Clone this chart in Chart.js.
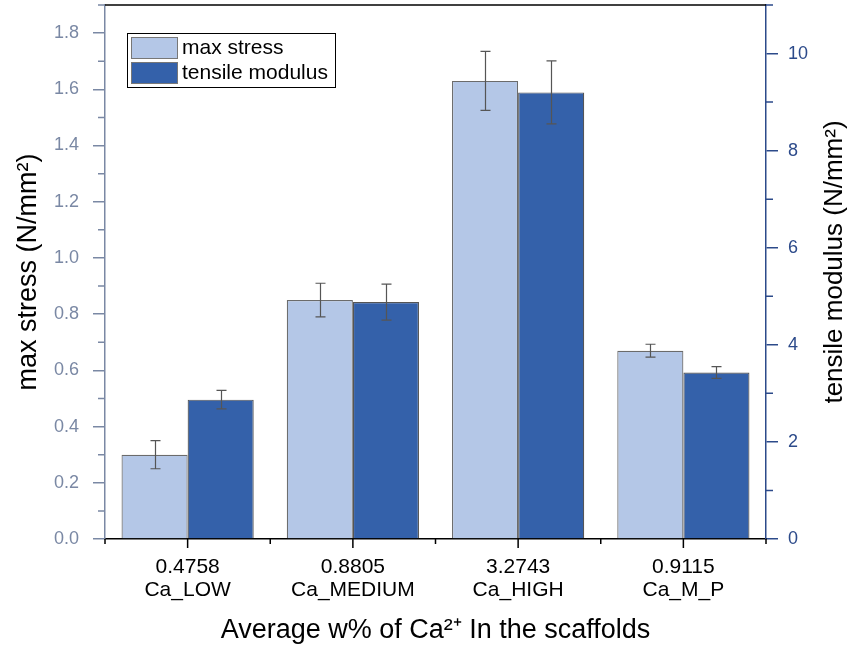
<!DOCTYPE html>
<html lang="en">
<head>
    <meta charset="UTF-8">
    <title>Max stress and tensile modulus</title>
    <script src="https://cdn.jsdelivr.net/npm/chart.js"></script>
    <style>
        html, body { margin: 0; padding: 0; background: #fff; }
        #wrap { width: 849px; height: 650px; }
    </style>
</head>
<body>
    <div id="wrap"><canvas id="barChart" width="849" height="650"></canvas></div>

    <script>
        // Data
        const caValues = ['0.4758', '0.8805', '3.2743', '0.9115'];
        const groups = ['Ca_LOW', 'Ca_MEDIUM', 'Ca_HIGH', 'Ca_M_P'];
        const maxStress = [0.30, 0.85, 1.63, 0.67];
        const maxStressErr = [0.05, 0.06, 0.105, 0.023];
        const tensileModulus = [2.87, 4.88, 9.20, 3.43];
        const tensileModulusErr = [0.19, 0.37, 0.65, 0.12];

        const font = 'Liberation Sans, Arial, sans-serif';
        const leftColor = '#7a88a4';
        const rightColor = '#2c4a8a';

        // error bars drawn through the scales
        const errorBars = {
            id: 'errorBars',
            afterDatasetsDraw(chart) {
                const ctx = chart.ctx;
                ctx.save();
                ctx.strokeStyle = '#555';
                ctx.lineWidth = 1.2;
                chart.data.datasets.forEach((ds, i) => {
                    const meta = chart.getDatasetMeta(i);
                    const scale = chart.scales[ds.yAxisID];
                    meta.data.forEach((bar, j) => {
                        const v = ds.data[j], e = ds.errors[j];
                        const yTop = scale.getPixelForValue(v + e);
                        const yBot = scale.getPixelForValue(v - e);
                        const x = Math.round(bar.x) + 0.5;
                        ctx.beginPath();
                        ctx.moveTo(x, yTop); ctx.lineTo(x, yBot);
                        ctx.moveTo(x - 5, yTop); ctx.lineTo(x + 5, yTop);
                        ctx.moveTo(x - 5, yBot); ctx.lineTo(x + 5, yBot);
                        ctx.stroke();
                    });
                });
                ctx.restore();
            }
        };

        // frame, minor ticks, x ticks, right title and legend box
        const decorations = {
            id: 'decorations',
            afterDraw(chart) {
                const ctx = chart.ctx;
                const area = chart.chartArea;
                const x = chart.scales.x, yL = chart.scales.yL, yR = chart.scales.yR;
                ctx.save();
                ctx.lineWidth = 1.5;

                // top frame
                ctx.strokeStyle = '#000';
                ctx.beginPath();
                ctx.moveTo(area.left, area.top); ctx.lineTo(area.right, area.top);
                ctx.stroke();

                // minor ticks (midpoints of major ticks)
                const minor = (scale, color, side) => {
                    ctx.strokeStyle = color;
                    const t = scale.ticks.map(k => k.value);
                    ctx.beginPath();
                    for (let i = 0; i < t.length; i++) {
                        const next = i + 1 < t.length ? t[i + 1] : t[i] + (t[1] - t[0]);
                        const m = (t[i] + next) / 2;
                        if (m > scale.max) continue;
                        const py = scale.getPixelForValue(m);
                        if (side === 'left') { ctx.moveTo(area.left, py); ctx.lineTo(area.left - 7, py); }
                        else { ctx.moveTo(area.right, py); ctx.lineTo(area.right + 7, py); }
                    }
                    ctx.stroke();
                };
                minor(yL, leftColor, 'left');
                minor(yR, rightColor, 'right');

                // x ticks: long at categories, short at boundaries
                ctx.strokeStyle = '#000';
                ctx.beginPath();
                const half = (x.getPixelForValue(1) - x.getPixelForValue(0)) / 2;
                groups.forEach((g, i) => {
                    const px = x.getPixelForValue(i);
                    ctx.moveTo(px, area.bottom); ctx.lineTo(px, area.bottom + 9);
                    ctx.moveTo(px - half, area.bottom); ctx.lineTo(px - half, area.bottom + 5);
                    if (i === groups.length - 1) { ctx.moveTo(px + half, area.bottom); ctx.lineTo(px + half, area.bottom + 5); }
                });
                ctx.stroke();

                // right axis title, reading bottom to top
                ctx.save();
                ctx.translate(835, 262);
                ctx.rotate(-Math.PI / 2);
                ctx.fillStyle = '#000';
                ctx.font = '26px ' + font;
                ctx.textAlign = 'center';
                ctx.textBaseline = 'middle';
                ctx.fillText('tensile modulus (N/mm²)', 0, 0);
                ctx.restore();

                // legend
                const lx = 127, ly = 33;
                ctx.lineWidth = 1;
                ctx.strokeStyle = '#000';
                ctx.strokeRect(lx + 0.5, ly + 0.5, 208, 54);
                ctx.font = '21px ' + font;
                ctx.textBaseline = 'middle';
                ctx.textAlign = 'left';
                chart.data.datasets.forEach((ds, i) => {
                    const sy = ly + 4 + i * 25;
                    ctx.fillStyle = ds.backgroundColor;
                    ctx.fillRect(lx + 4, sy, 47, 22);
                    ctx.strokeStyle = '#777';
                    ctx.strokeRect(lx + 4.5, sy + 0.5, 46, 21);
                    ctx.fillStyle = '#000';
                    ctx.fillText(ds.label, lx + 55, sy + 11);
                });
                ctx.restore();
            }
        };

        const ctx = document.getElementById('barChart').getContext('2d');
        new Chart(ctx, {
            type: 'bar',
            data: {
                labels: caValues.map((v, i) => [v, groups[i]]),
                datasets: [
                    {
                        label: 'max stress',
                        data: maxStress,
                        errors: maxStressErr,
                        yAxisID: 'yL',
                        backgroundColor: '#b4c7e7',
                        borderColor: '#6b6b6b',
                        borderWidth: 1.2
                    },
                    {
                        label: 'tensile modulus',
                        data: tensileModulus,
                        errors: tensileModulusErr,
                        yAxisID: 'yR',
                        backgroundColor: '#3461aa',
                        borderColor: '#555',
                        borderWidth: 1.2
                    }
                ]
            },
            options: {
                responsive: false,
                animation: false,
                devicePixelRatio: 1,
                layout: { padding: { top: 5, left: 0, right: 0, bottom: 0 } },
                datasets: { bar: { categoryPercentage: 0.8, barPercentage: 1.0 } },
                plugins: { legend: { display: false }, tooltip: { enabled: false } },
                scales: {
                    x: {
                        offset: true,
                        grid: { display: false },
                        border: { color: '#000', width: 1.5 },
                        ticks: { color: '#000', font: { family: font, size: 21, lineHeight: 1.1 }, padding: 9, maxRotation: 0 },
                        title: { display: true, text: 'Average w% of Ca²⁺ In the scaffolds', color: '#000', font: { family: font, size: 27 }, padding: { top: 0, bottom: 3 } },
                        afterFit(s) { s.height = 111; s.paddingLeft = 0; s.paddingRight = 0; }
                    },
                    yL: {
                        position: 'left',
                        min: 0, max: 1.9,
                        ticks: { stepSize: 0.2, color: leftColor, font: { family: font, size: 18 }, padding: 14,
                                 callback: v => v.toFixed(1) },
                        afterBuildTicks(s) { s.ticks = s.ticks.filter(t => Math.abs(t.value * 5 - Math.round(t.value * 5)) < 1e-6); },
                        grid: { drawOnChartArea: false, color: leftColor, tickLength: 12, lineWidth: 1.5 },
                        border: { color: leftColor, width: 1.5 },
                        title: { display: true, text: 'max stress (N/mm²)', color: '#000', font: { family: font, size: 27 }, padding: { top: 12, bottom: 0 } },
                        afterFit(s) { s.width = 105; s.paddingTop = 0; s.paddingBottom = 0; }
                    },
                    yR: {
                        position: 'right',
                        min: 0, max: 11,
                        ticks: { stepSize: 2, color: rightColor, font: { family: font, size: 18 }, padding: 10 },
                        afterBuildTicks(s) { s.ticks = s.ticks.filter(t => t.value % 2 === 0); },
                        grid: { drawOnChartArea: false, color: rightColor, tickLength: 12, lineWidth: 1.5 },
                        border: { color: rightColor, width: 1.5 },
                        afterFit(s) { s.width = 83; s.paddingTop = 0; s.paddingBottom = 0; }
                    }
                }
            },
            plugins: [errorBars, decorations]
        });
    </script>
</body>
</html>
